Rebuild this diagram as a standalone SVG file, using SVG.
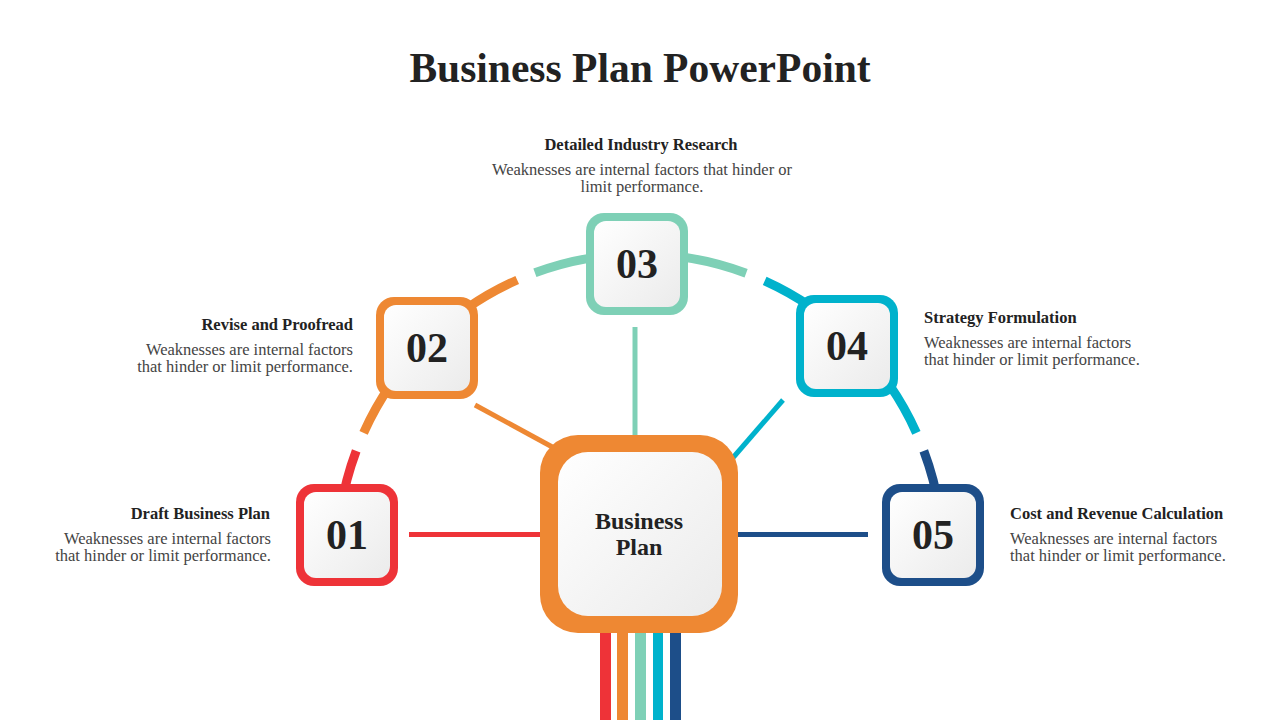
<svg xmlns="http://www.w3.org/2000/svg" width="1280" height="720" viewBox="0 0 1280 720">
<defs>
<linearGradient id="g" x1="0" y1="0" x2="1" y2="1">
<stop offset="0" stop-color="#ffffff"/>
<stop offset="1" stop-color="#ebebeb"/>
</linearGradient>
<style>
.title{font-family:"Liberation Serif","DejaVu Serif",serif;font-weight:bold;font-size:41.5px;fill:#222;text-anchor:middle}
.h{font-family:"Liberation Serif","DejaVu Serif",serif;font-weight:bold;font-size:16.5px;fill:#222}
.b{font-family:"Liberation Serif","DejaVu Serif",serif;font-size:16.5px;fill:#444}
.num{font-family:"Liberation Serif","DejaVu Serif",serif;font-weight:bold;font-size:42px;fill:#222;text-anchor:middle}
.ctr{font-family:"Liberation Serif","DejaVu Serif",serif;font-weight:bold;font-size:24px;fill:#222;text-anchor:middle}
.arc{fill:none;stroke-width:9}
.ln{fill:none;stroke-width:5}
.in{fill:url(#g)}
</style>
</defs>
<rect width="1280" height="720" fill="#ffffff"/>
<text class="title" x="640" y="82">Business Plan PowerPoint</text>

<g id="connectors">
<path class="arc" stroke="#EE3338" d="M337.7,535.9 A303,303 0 0 1 356.2,450.9"/>
<path class="arc" stroke="#EE8833" d="M363.6,432.8 A303,303 0 0 1 517.2,280.0"/>
<path class="arc" stroke="#7ED0B6" d="M534.9,272.8 A303,303 0 0 1 746.1,273.2"/>
<path class="arc" stroke="#00B2CC" d="M764.7,280.8 A303,303 0 0 1 916.4,432.8"/>
<path class="arc" stroke="#1D4E89" d="M923.8,450.9 A303,303 0 0 1 942.3,535.9"/>
<line class="ln" stroke="#EE3338" x1="409" y1="534.5" x2="545" y2="534.5"/>
<line class="ln" stroke="#1D4E89" x1="733" y1="534.5" x2="868" y2="534.5"/>
<line class="ln" stroke="#7ED0B6" stroke-width="4" x1="635" y1="327" x2="635" y2="440"/>
<line class="ln" stroke="#EE8833" stroke-width="4.5" x1="475" y1="405" x2="556" y2="449"/>
<line class="ln" stroke="#00B2CC" stroke-width="4.5" x1="783" y1="400" x2="731" y2="460"/>
<rect x="600" y="630" width="11" height="90" fill="#EE3338"/>
<rect x="617" y="630" width="11" height="90" fill="#EE8833"/>
<rect x="635" y="630" width="11" height="90" fill="#7ED0B6"/>
<rect x="653" y="630" width="10" height="90" fill="#00B2CC"/>
<rect x="670" y="630" width="11" height="90" fill="#1D4E89"/>
</g>

<g id="center">
<rect x="540" y="435" width="198" height="198" rx="38" fill="#EE8833"/>
<rect class="in" x="558" y="452" width="164" height="164" rx="30"/>
<text class="ctr" x="639" y="529">Business</text>
<text class="ctr" x="639" y="555">Plan</text>
</g>

<g id="node01">
<rect x="296" y="484" width="102" height="102" rx="18" fill="#EE3338"/>
<rect class="in" x="304" y="492" width="86" height="86" rx="12"/>
<text class="num" x="347" y="549">01</text>
<text class="h" x="270" y="519" text-anchor="end">Draft Business Plan</text>
<text class="b" x="271" y="544" text-anchor="end">Weaknesses are internal factors</text>
<text class="b" x="271" y="561" text-anchor="end">that hinder or limit performance.</text>
</g>

<g id="node02">
<rect x="376" y="297" width="102" height="102" rx="18" fill="#EE8833"/>
<rect class="in" x="384" y="305" width="86" height="86" rx="12"/>
<text class="num" x="427" y="362">02</text>
<text class="h" x="353" y="330" text-anchor="end">Revise and Proofread</text>
<text class="b" x="353" y="355" text-anchor="end">Weaknesses are internal factors</text>
<text class="b" x="353" y="372" text-anchor="end">that hinder or limit performance.</text>
</g>

<g id="node03">
<rect x="586" y="213" width="102" height="102" rx="18" fill="#7ED0B6"/>
<rect class="in" x="594" y="221" width="86" height="86" rx="12"/>
<text class="num" x="637" y="278">03</text>
<text class="h" x="641" y="150" text-anchor="middle">Detailed Industry Research</text>
<text class="b" x="642" y="175" text-anchor="middle">Weaknesses are internal factors that hinder or</text>
<text class="b" x="642" y="192" text-anchor="middle">limit performance.</text>
</g>

<g id="node04">
<rect x="796" y="295" width="102" height="102" rx="18" fill="#00B2CC"/>
<rect class="in" x="804" y="303" width="86" height="86" rx="12"/>
<text class="num" x="847" y="360">04</text>
<text class="h" x="924" y="323">Strategy Formulation</text>
<text class="b" x="924" y="348">Weaknesses are internal factors</text>
<text class="b" x="924" y="365">that hinder or limit performance.</text>
</g>

<g id="node05">
<rect x="882" y="484" width="102" height="102" rx="18" fill="#1D4E89"/>
<rect class="in" x="890" y="492" width="86" height="86" rx="12"/>
<text class="num" x="933" y="549">05</text>
<text class="h" x="1010" y="519">Cost and Revenue Calculation</text>
<text class="b" x="1010" y="544">Weaknesses are internal factors</text>
<text class="b" x="1010" y="561">that hinder or limit performance.</text>
</g>
</svg>
